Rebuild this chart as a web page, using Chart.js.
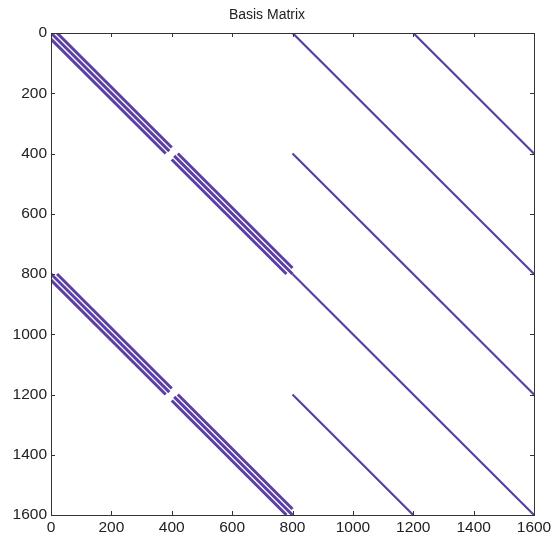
<!DOCTYPE html>
<html>
<head>
<meta charset="utf-8">
<script src="https://cdn.jsdelivr.net/npm/chart.js@4.4.0/dist/chart.umd.min.js"></script>
<style>
html, body { margin: 0; padding: 0; background: #fff; }
#chart { display: block; }
</style>
</head>
<body>
<canvas id="chart" width="551" height="536"></canvas>
<script>
const TITLE = 'Basis Matrix';
const xTicks = [0, 200, 400, 600, 800, 1000, 1200, 1400, 1600];
const yTicks = [0, 200, 400, 600, 800, 1000, 1200, 1400, 1600];

// segments as [colStart, rowStart, colEnd, rowEnd] (matrix indices)
const bandTop = [
    [20, 0, 400, 380], [0, 0, 392, 392], [0, 20, 380, 400],
    [420, 400, 800, 780], [408, 408, 800, 800], [400, 420, 780, 800]
];
const bandBottom = [
    [20, 800, 400, 1180], [0, 800, 392, 1192], [0, 820, 380, 1200],
    [420, 1200, 800, 1580], [408, 1208, 800, 1600], [400, 1220, 780, 1600]
];
const singleDiags = [
    [800, 800, 1600, 1600],
    [800, 0, 1600, 800],
    [1200, 0, 1600, 400],
    [800, 400, 1600, 1200],
    [800, 1200, 1200, 1600]
];

const PURPLE = '#5b3fa5';
const FONT = 'Liberation Sans, Arial, Helvetica, sans-serif';

function seg(s, w) {
    return {
        data: [{ x: s[0], y: s[1] }, { x: s[2], y: s[3] }],
        showLine: true, borderColor: PURPLE, borderWidth: w,
        borderCapStyle: 'butt', pointRadius: 0, fill: false
    };
}

const datasets = [
    ...bandTop.map(s => seg(s, 3)),
    ...bandBottom.map(s => seg(s, 3)),
    ...singleDiags.map(s => seg(s, 2.2))
];

// box + inward ticks like the octave axes
const frame = {
    id: 'frame',
    afterDatasetsDraw(chart) {
        const { ctx, chartArea: a, scales: { x, y } } = chart;
        ctx.save();
        ctx.strokeStyle = '#333'; ctx.lineWidth = 1;
        ctx.beginPath();
        xTicks.forEach(v => {
            const p = Math.round(x.getPixelForValue(v)) + 0.5;
            ctx.moveTo(p, a.bottom); ctx.lineTo(p, a.bottom - 4);
            ctx.moveTo(p, a.top); ctx.lineTo(p, a.top + 4);
        });
        yTicks.forEach(v => {
            const p = Math.round(y.getPixelForValue(v)) + 0.5;
            ctx.moveTo(a.left, p); ctx.lineTo(a.left + 4, p);
            ctx.moveTo(a.right, p); ctx.lineTo(a.right - 4, p);
        });
        ctx.stroke();
        ctx.strokeRect(Math.round(a.left) + 0.5, Math.round(a.top) + 0.5,
            Math.round(a.width), Math.round(a.height));
        ctx.restore();
    }
};

new Chart(document.getElementById('chart'), {
    type: 'scatter',
    data: { datasets },
    options: {
        responsive: false,
        animation: false,
        layout: { padding: { left: 0, right: 17, top: 0, bottom: 0 } },
        plugins: {
            legend: { display: false },
            tooltip: { enabled: false },
            title: {
                display: true, text: TITLE, color: '#222',
                font: { family: FONT, size: 14, weight: 'normal' },
                padding: { top: 7, bottom: 9.2 }
            }
        },
        scales: {
            x: {
                type: 'linear', min: 0, max: 1600,
                afterBuildTicks: s => { s.ticks = xTicks.map(v => ({ value: v })); },
                afterFit: s => { s.height = 21; s.paddingRight = 0; },
                grid: { display: false, drawTicks: false },
                border: { display: false },
                ticks: { color: '#222', padding: 3, maxRotation: 0, autoSkip: false,
                    callback: v => String(v),
                    font: { family: FONT, size: 15.5 } }
            },
            y: {
                type: 'linear', min: 0, max: 1600, reverse: true,
                afterBuildTicks: s => { s.ticks = yTicks.map(v => ({ value: v })); },
                afterFit: s => { s.width = 51; },
                grid: { display: false, drawTicks: false },
                border: { display: false },
                ticks: { color: '#222', padding: 4, autoSkip: false,
                    callback: v => String(v),
                    font: { family: FONT, size: 15.5 } }
            }
        }
    },
    plugins: [frame]
});
</script>
</body>
</html>
